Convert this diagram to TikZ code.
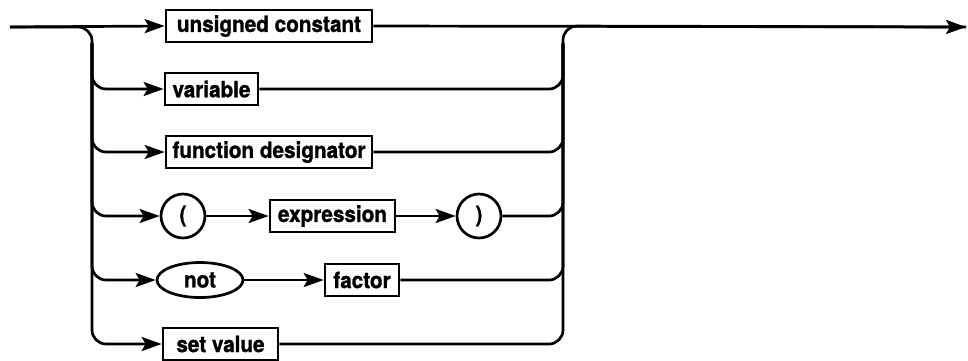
\documentclass[tikz,border=0pt]{standalone}
\usepackage{fontspec}
\setmainfont[FakeStretch=0.92,BoldFeatures={FakeBold=1.2}]{TeX Gyre Heros}
\usetikzlibrary{arrows.meta,shapes.geometric,calc}
\begin{document}
\begin{tikzpicture}[x=1pt,y=-1pt,
  line width=2.7pt,
  lbl/.style={font=\fontsize{22.5}{26}\selectfont\bfseries},
  term/.style={lbl, draw, rectangle, minimum height=32pt, inner xsep=4pt, inner ysep=0pt},
  lit/.style={lbl, draw, circle, minimum size=44pt, inner sep=0pt},
  litov/.style={lbl, draw, ellipse, minimum width=86pt, minimum height=35pt, inner sep=0pt},
  flow/.style={-{Stealth[length=20pt,width=14pt,inset=4pt]}},
  rail/.style={rounded corners=14pt}]
\useasboundingbox (0,0) rectangle (968,360);

% nodes
\node[term, minimum width=206pt] (uc) at (269,26) {unsigned constant};
\node[term, minimum width=93pt]  (var) at (211.5,89) {variable};
\node[term, minimum width=206pt] (fd) at (269,152) {function designator};
\node[lit] (lp) at (183,216) {(};
\node[term, minimum width=125pt] (ex) at (332.5,216) {expression};
\node[lit] (rp) at (479,216) {)};
\node[litov] (nt) at (200,280) {not};
\node[term, minimum width=74pt] (fa) at (362,280) {factor};
\node[term, minimum width=115pt] (sv) at (220.5,344) {set value};

\coordinate (s) at (10,27);
\coordinate (e) at (966,27);
\coordinate (L) at (92,200);
\coordinate (R) at (563,200);

% main line
\draw[flow] (s) -- (uc.west);
\draw[flow] (uc.east) -- (e);

% left rail
\draw[rail, flow] (s) -| (L |- sv.west) -- (sv.west);
\draw[rail, flow] (L |- uc.south) |- (var.west);
\draw[rail, flow] (L |- uc.south) |- (fd.west);
\draw[rail, flow] (L |- uc.south) |- (lp.west);
\draw[rail, flow] (L |- uc.south) |- (nt.west);

% inner connectors
\draw[flow] (lp.east) -- (ex.west);
\draw[flow] (ex.east) -- (rp.west);
\draw[flow] (nt.east) -- (fa.west);

% right rail
\draw[rail] (sv.east) -| (R |- uc.east) -- (e);
\draw[rail] (var.east) -| (R |- uc.south);
\draw[rail] (fd.east) -| (R |- uc.south);
\draw[rail] (rp.east) -| (R |- uc.south);
\draw[rail] (fa.east) -| (R |- uc.south);
\end{tikzpicture}
\end{document}
